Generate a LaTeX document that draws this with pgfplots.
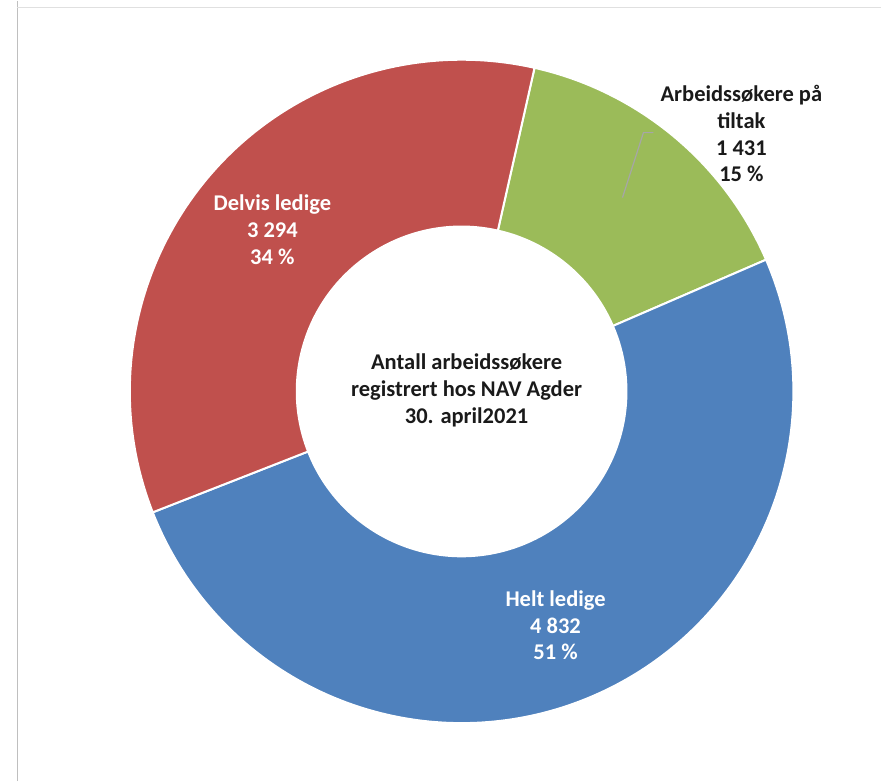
\documentclass[border=0pt]{standalone}
\usepackage{pgfplots}
\usepackage{pgfplotstable}
\pgfplotsset{compat=1.18}
\usepackage{fontspec}
\setmainfont{Carlito}
\definecolor{cGreen}{HTML}{9BBB59}
\definecolor{cBlue}{HTML}{4F81BD}
\definecolor{cRed}{HTML}{C0504D}
\definecolor{cTxt}{HTML}{1A1A1A}

\pgfplotstableread{
label value
tiltak 1431
helt 4832
delvis 3294
}\piedata

\newcommand\sector[3]{%
  \fill[#3, draw=white, line width=2pt]
    ([shift={(#1:332pt)}]axis cs:462,390) arc[start angle=#1, end angle=#2, radius=332pt]
    -- ([shift={(#2:165pt)}]axis cs:462,390) arc[start angle=#2, end angle=#1, radius=165pt]
    -- cycle;}

\begin{document}
\begin{tikzpicture}
\pgfplotstablegetelem{0}{value}\of\piedata \let\va\pgfplotsretval
\pgfplotstablegetelem{1}{value}\of\piedata \let\vb\pgfplotsretval
\pgfplotstablegetelem{2}{value}\of\piedata \let\vc\pgfplotsretval
\pgfmathsetmacro\tot{(\va+\vb+\vc)/100}
\pgfmathsetmacro\fa{\va/\tot}
\pgfmathsetmacro\fb{\vb/\tot}
\pgfmathsetmacro\fc{\vc/\tot}
\pgfmathsetmacro\aA{77.3}
\pgfmathsetmacro\aB{\aA-3.6*\fa}
\pgfmathsetmacro\aC{\aB-3.6*\fb}
\pgfmathsetmacro\aD{\aC-3.6*\fc}
\begin{axis}[
  scale only axis, width=882pt, height=781pt,
  xmin=0, xmax=882, ymin=0, ymax=781,
  hide axis, clip=false]
  \path (axis cs:0,0) rectangle (axis cs:882,781);
  \draw[gray!50, line width=1.5pt] (axis cs:17.5,0) -- (axis cs:17.5,781);
  \draw[black!12, line width=1.5pt] (axis cs:17,774) -- (axis cs:882,774);
  \sector{\aA}{\aB}{cGreen}
  \sector{\aB}{\aC}{cBlue}
  \sector{\aC}{\aD}{cRed}
  \draw[black!35, line width=1.2pt] (axis cs:623,584) -- (axis cs:644,649) -- (axis cs:654,649);
  \node[align=center, inner sep=0pt, text=cTxt, font=\fontsize{22.5}{26.7}\selectfont\bfseries]
    at (axis cs:742,648) {Arbeidssøkere på\\tiltak\\1 431\\15 \%};
  \node[align=center, inner sep=0pt, text=white, font=\fontsize{22.5}{27}\selectfont\bfseries]
    at (axis cs:272.6,552) {Delvis ledige\\3 294\\34 \%};
  \node[align=center, inner sep=0pt, text=white, font=\fontsize{22.5}{27}\selectfont\bfseries]
    at (axis cs:556,156) {Helt ledige\\4 832\\51 \%};
  \node[align=center, inner sep=0pt, text=cTxt, font=\fontsize{22.5}{27}\selectfont\bfseries]
    at (axis cs:467,391) {Antall arbeidssøkere\\registrert hos NAV Agder\\30. april2021};
\end{axis}
\end{tikzpicture}
\end{document}
